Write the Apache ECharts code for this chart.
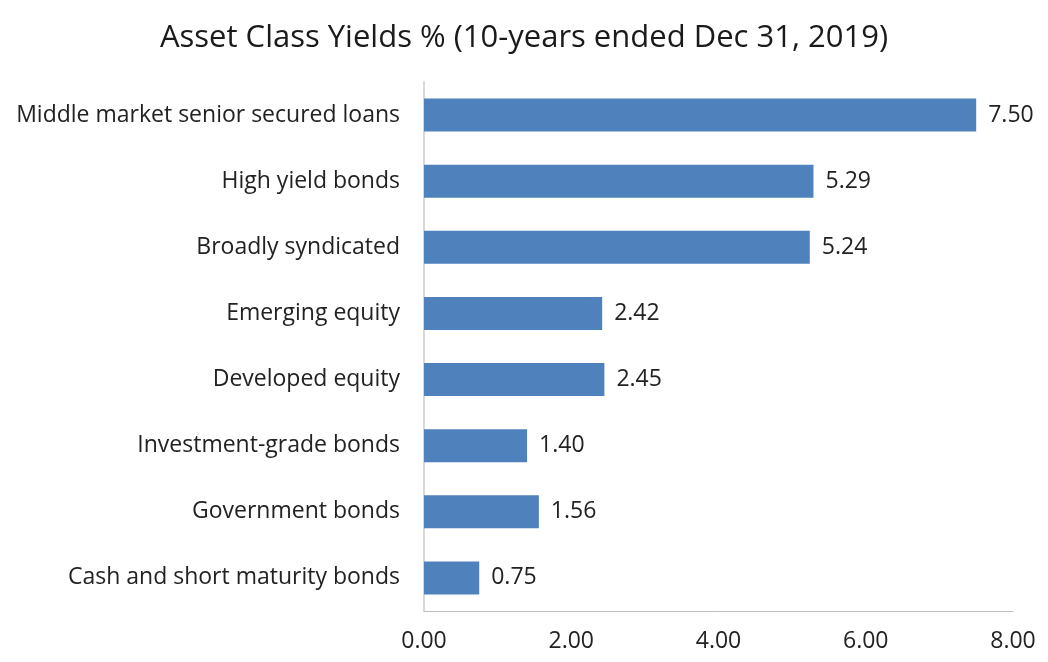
<!DOCTYPE html>
<html>
<head>
<meta charset="utf-8">
<script src="https://cdn.jsdelivr.net/npm/echarts@6/dist/echarts.min.js"></script>
<style>
html,body{margin:0;padding:0;background:#fff;}
#chart{width:1048px;height:662px;}
</style>
</head>
<body>
<div id="chart"></div>
<script>
// categories listed bottom to top (category axis starts at the bottom)
var categories = [
	'Cash and short maturity bonds',
	'Government bonds',
	'Investment-grade bonds',
	'Developed equity',
	'Emerging equity',
	'Broadly syndicated',
	'High yield bonds',
	'Middle market senior secured loans'
];
var yields = [0.75, 1.56, 1.40, 2.45, 2.42, 5.24, 5.29, 7.50];
var xTicks = [0, 2, 4, 6, 8];

var font = 'Open Sans';
var myChart = echarts.init(document.getElementById('chart'));
var option = {
	animation: false,
	title: {
		text: 'Asset Class Yields % (10-years ended Dec 31, 2019)',
		left: 'center',
		top: 18,
		textStyle: {
			fontFamily: font,
			fontWeight: 'normal',
			fontSize: 31,
			color: '#1a1a1a'
		}
	},
	grid: {
		left: 424,
		right: 35,
		top: 82,
		bottom: 51,
		containLabel: false
	},
	xAxis: {
		type: 'value',
		min: xTicks[0],
		max: xTicks[xTicks.length - 1],
		interval: 2,
		splitLine: {show: false},
		axisTick: {show: false},
		axisLine: {show: true, lineStyle: {color: '#bfbfbf', width: 1}},
		axisLabel: {
			margin: 19,
			fontFamily: font,
			fontSize: 23,
			color: '#222',
			formatter: function(v){ return v.toFixed(2); }
		}
	},
	yAxis: {
		type: 'category',
		data: categories,
		axisTick: {show: false},
		axisLine: {show: true, lineStyle: {color: '#d9d9d9', width: 2}},
		axisLabel: {
			margin: 24,
			fontFamily: font,
			fontSize: 23,
			color: '#222'
		}
	},
	series: [{
		type: 'bar',
		data: yields,
		barWidth: '50%',
		itemStyle: {color: '#4F81BD'},
		label: {
			show: true,
			position: 'right',
			distance: 12,
			fontFamily: font,
			fontSize: 23,
			color: '#222',
			formatter: function(p){ return p.value.toFixed(2); }
		}
	}]
};
myChart.setOption(option, true);
</script>
</body>
</html>
